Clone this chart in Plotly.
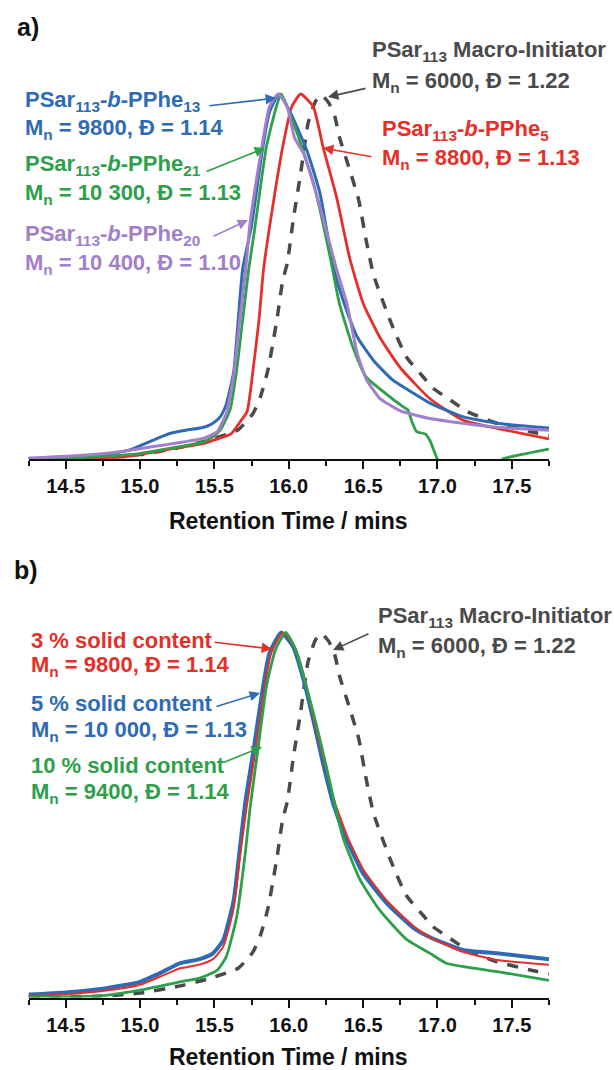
import plotly.graph_objects as go

W, H = 614, 1070

# ---------------- data: panel a ----------------
t_a_blue = [14.25, 14.5, 14.75, 14.93, 15.09, 15.20, 15.31, 15.43, 15.49, 15.54, 15.58, 15.63, 15.66, 15.69, 15.75, 15.82, 15.87, 15.935, 16.01, 16.12, 16.21, 16.30, 16.37, 16.46, 16.57, 16.70, 16.84, 16.95, 17.17, 17.40, 17.75]
v_a_blue = [0.002, 0.005, 0.011, 0.025, 0.052, 0.070, 0.079, 0.087, 0.098, 0.116, 0.150, 0.240, 0.380, 0.520, 0.640, 0.840, 0.950, 1.0, 0.950, 0.847, 0.728, 0.525, 0.430, 0.335, 0.270, 0.216, 0.180, 0.153, 0.116, 0.098, 0.085]

t_a_red = [14.25, 14.6, 14.9, 14.98, 15.20, 15.43, 15.54, 15.61, 15.67, 15.72, 15.76, 15.80, 15.83, 15.885, 15.96, 16.02, 16.08, 16.165, 16.23, 16.32, 16.41, 16.50, 16.61, 16.75, 16.95, 17.17, 17.40, 17.75]
v_a_red = [0.0, 0.002, 0.006, 0.011, 0.027, 0.043, 0.058, 0.068, 0.100, 0.130, 0.244, 0.381, 0.518, 0.673, 0.856, 0.965, 1.0, 0.965, 0.856, 0.720, 0.550, 0.427, 0.335, 0.250, 0.165, 0.107, 0.084, 0.055]

t_a_green = [14.25, 14.6, 14.98, 15.20, 15.43, 15.49, 15.54, 15.605, 15.65, 15.69, 15.73, 15.77, 15.85, 15.92, 15.95, 16.05, 16.17, 16.28, 16.34, 16.43, 16.52, 16.65, 16.77, 16.80, 16.83, 16.86, 16.92, 16.95, 17.0, 17.1, 17.25, 17.38, 17.44, 17.6, 17.75]
v_a_green = [0.0, 0.004, 0.014, 0.029, 0.047, 0.061, 0.080, 0.134, 0.244, 0.381, 0.518, 0.627, 0.856, 0.970, 1.0, 0.900, 0.750, 0.550, 0.427, 0.308, 0.225, 0.180, 0.143, 0.135, 0.100, 0.075, 0.068, 0.050, 0.0, -0.05, -0.06, -0.02, 0.0, 0.015, 0.027]

t_a_purple = [14.25, 14.64, 14.87, 15.09, 15.27, 15.43, 15.49, 15.52, 15.58, 15.63, 15.67, 15.71, 15.74, 15.82, 15.87, 15.93, 15.99, 16.04, 16.10, 16.21, 16.32, 16.39, 16.46, 16.52, 16.61, 16.75, 16.95, 17.17, 17.40, 17.75]
v_a_purple = [0.002, 0.011, 0.020, 0.034, 0.045, 0.057, 0.068, 0.075, 0.125, 0.230, 0.380, 0.518, 0.646, 0.856, 0.965, 1.0, 0.965, 0.879, 0.837, 0.691, 0.522, 0.427, 0.290, 0.220, 0.167, 0.132, 0.111, 0.098, 0.087, 0.079]

# macro-initiator (same sample in both panels)
t_macro = [14.25, 14.75, 15.0, 15.25, 15.45, 15.60, 15.66, 15.76, 15.81, 15.86, 15.92, 15.96, 15.99, 16.03, 16.08, 16.13, 16.18, 16.22, 16.27, 16.31, 16.34, 16.41, 16.47, 16.52, 16.57, 16.68, 16.79, 16.91, 16.97, 17.11, 17.20, 17.40, 17.67, 17.75]
v_macro = [0.0, 0.004, 0.012, 0.030, 0.050, 0.070, 0.080, 0.125, 0.171, 0.244, 0.381, 0.490, 0.536, 0.655, 0.783, 0.920, 0.980, 0.997, 0.975, 0.938, 0.883, 0.792, 0.710, 0.600, 0.505, 0.381, 0.280, 0.222, 0.194, 0.155, 0.130, 0.098, 0.071, 0.065]

# ---------------- data: panel b ----------------
t_b_blue = [14.25, 14.5, 14.75, 15.0, 15.15, 15.27, 15.40, 15.49, 15.56, 15.63, 15.67, 15.71, 15.76, 15.82, 15.87, 15.95, 16.03, 16.10, 16.165, 16.23, 16.30, 16.39, 16.50, 16.66, 16.84, 16.95, 17.17, 17.40, 17.75]
v_b_blue = [0.008, 0.014, 0.024, 0.043, 0.070, 0.094, 0.105, 0.121, 0.158, 0.267, 0.404, 0.541, 0.669, 0.833, 0.943, 1.0, 0.961, 0.870, 0.760, 0.642, 0.530, 0.432, 0.340, 0.258, 0.190, 0.165, 0.130, 0.121, 0.105]

t_b_red = [14.25, 14.5, 14.75, 15.0, 15.15, 15.27, 15.40, 15.49, 15.56, 15.63, 15.67, 15.72, 15.77, 15.83, 15.88, 15.96, 16.04, 16.11, 16.17, 16.24, 16.31, 16.40, 16.51, 16.66, 16.84, 16.95, 17.17, 17.40, 17.75]
v_b_red = [0.004, 0.009, 0.018, 0.035, 0.060, 0.080, 0.090, 0.105, 0.140, 0.245, 0.380, 0.530, 0.660, 0.830, 0.940, 1.0, 0.960, 0.870, 0.760, 0.645, 0.535, 0.435, 0.345, 0.265, 0.195, 0.165, 0.125, 0.103, 0.090]

t_b_green = [14.25, 14.75, 15.0, 15.27, 15.40, 15.52, 15.58, 15.65, 15.71, 15.74, 15.795, 15.85, 15.91, 15.98, 16.05, 16.12, 16.19, 16.26, 16.32, 16.37, 16.48, 16.61, 16.79, 16.95, 17.06, 17.40, 17.75]
v_b_green = [0.0, 0.005, 0.020, 0.043, 0.053, 0.075, 0.112, 0.221, 0.404, 0.520, 0.687, 0.852, 0.952, 1.0, 0.950, 0.850, 0.740, 0.620, 0.510, 0.432, 0.322, 0.240, 0.160, 0.121, 0.094, 0.071, 0.047]

x_ticks = [14.5, 15.0, 15.5, 16.0, 16.5, 17.0, 17.5]
x_tick_labels = ["14.5", "15.0", "15.5", "16.0", "16.5", "17.0", "17.5"]
x_title = "Retention Time / mins"

BLUE = "#2f6bb5"
RED = "#e5302a"
GREEN = "#2e9f4a"
PURPLE = "#a27fcb"
GREY = "#4a4a4a"

FONT = "Liberation Sans, Arial, Helvetica, sans-serif"

fig = go.Figure()

def line(t, v, color, width, xa, ya, dash=None):
    fig.add_trace(go.Scatter(
        x=t, y=v, mode="lines", xaxis=xa, yaxis=ya,
        line=dict(color=color, width=width, dash=dash, shape="spline", smoothing=0.5),
        hoverinfo="skip", showlegend=False))

# panel a
line(t_macro, v_macro, GREY, 3.5, "x", "y", dash="11px,10px")
line(t_a_red, v_a_red, RED, 2.8, "x", "y")
line(t_a_blue, v_a_blue, BLUE, 3.0, "x", "y")
line(t_a_green, v_a_green, GREEN, 2.8, "x", "y")
line(t_a_purple, v_a_purple, PURPLE, 3.0, "x", "y")

# panel b
line(t_macro, v_macro, GREY, 3.5, "x2", "y2", dash="11px,10px")
line(t_b_blue, v_b_blue, BLUE, 4.0, "x2", "y2")
line(t_b_red, v_b_red, RED, 2.0, "x2", "y2")
line(t_b_green, v_b_green, GREEN, 2.8, "x2", "y2")

def px_x(px):
    return px / W

def px_y(py):
    return 1 - py / H

XL, XR = 28.5, 549.0
YR = 1.15
A_BASE, B_BASE = 459.0, 997.5
UNIT = 365.0

xaxis_common = dict(
    range=[14.25, 17.75], domain=[px_x(XL), px_x(XR)],
    showline=True, linecolor="#111", linewidth=2,
    ticks="outside", ticklen=8, tickwidth=2, tickcolor="#111",
    tickvals=x_ticks, ticktext=x_tick_labels,
    tickfont=dict(family=FONT, size=20, color="#111", weight="bold"),
    minor=dict(dtick=0.25, tick0=14.25, ticks="outside", ticklen=5, tickwidth=1.5, tickcolor="#111"),
    showgrid=False, zeroline=False, fixedrange=True,
)
yaxis_common = dict(range=[0, YR], visible=False, showgrid=False, zeroline=False, fixedrange=True)

fig.update_layout(
    width=W, height=H, margin=dict(l=0, r=0, t=0, b=0),
    paper_bgcolor="white", plot_bgcolor="white",
    xaxis=dict(**xaxis_common, anchor="y"),
    yaxis=dict(**yaxis_common, domain=[px_y(A_BASE), px_y(A_BASE - YR * UNIT)], anchor="x"),
    xaxis2=dict(**xaxis_common, anchor="y2"),
    yaxis2=dict(**yaxis_common, domain=[px_y(B_BASE), px_y(B_BASE - YR * UNIT)], anchor="x2"),
)

LS = 22  # label font size

def text(px, py, s, color, size=LS, xanchor="left"):
    fig.add_annotation(x=px_x(px), y=px_y(py), xref="paper", yref="paper",
                       text=s, showarrow=False, xanchor=xanchor, yanchor="middle",
                       font=dict(family=FONT, size=size, color=color, weight="bold"))

def arrow(tail, head, color):
    fig.add_annotation(x=px_x(head[0]), y=px_y(head[1]), xref="paper", yref="paper",
                       ax=tail[0] - head[0], ay=tail[1] - head[1], text="",
                       showarrow=True, arrowhead=2, arrowsize=1.3, arrowwidth=1.6,
                       arrowcolor=color, standoff=0)

SUB = "<sub>113</sub>"
MN = "M<sub>n</sub>"

# panel a labels
text(15, 27, "a)", "#111", size=25)
text(370, 51, "PSar" + SUB + " Macro-Initiator", GREY)
text(370, 82, MN + " = 6000, Đ = 1.22", GREY)
text(23, 101, "PSar" + SUB + "-<i>b</i>-PPhe<sub>13</sub>", BLUE)
text(23, 129, MN + " = 9800, Đ = 1.14", BLUE)
text(380, 130, "PSar" + SUB + "-<i>b</i>-PPhe<sub>5</sub>", RED)
text(380, 159, MN + " = 8800, Đ = 1.13", RED)
text(23, 165, "PSar" + SUB + "-<i>b</i>-PPhe<sub>21</sub>", GREEN)
text(23, 194, MN + " = 10 300, Đ = 1.13", GREEN)
text(23, 235, "PSar" + SUB + "-<i>b</i>-PPhe<sub>20</sub>", PURPLE)
text(23, 264, MN + " = 10 400, Đ = 1.10", PURPLE)
text((XL + XR) / 2, 521, x_title, "#111", size=23, xanchor="center")

arrow((208, 106), (276, 98), BLUE)
arrow((205, 172), (265, 148), GREEN)
arrow((212, 237), (248, 220), PURPLE)
arrow((373, 157), (323, 148), RED)
arrow((367, 88), (328, 97), GREY)

# panel b labels
text(12, 570, "b)", "#111", size=25)
text(376, 617, "PSar" + SUB + " Macro-Initiator", GREY)
text(376, 647, MN + " = 6000, Đ = 1.22", GREY)
text(29, 640, "3 % solid content", RED)
text(29, 666, MN + " = 9800, Đ = 1.14", RED)
text(29, 703, "5 % solid content", BLUE)
text(29, 731, MN + " = 10 000, Đ = 1.13", BLUE)
text(29, 765, "10 % solid content", GREEN)
text(29, 793, MN + " = 9400, Đ = 1.14", GREEN)
text((XL + XR) / 2, 1057, x_title, "#111", size=23, xanchor="center")

arrow((213, 642), (272, 649), RED)
arrow((215, 707), (260, 693), BLUE)
arrow((222, 763), (262, 747), GREEN)
arrow((370, 633), (333, 650), GREY)

fig.write_html(
    "out.html",
    config={"displayModeBar": False},
    post_script="document.body.style.margin='0px';document.body.style.overflow='hidden';",
)
